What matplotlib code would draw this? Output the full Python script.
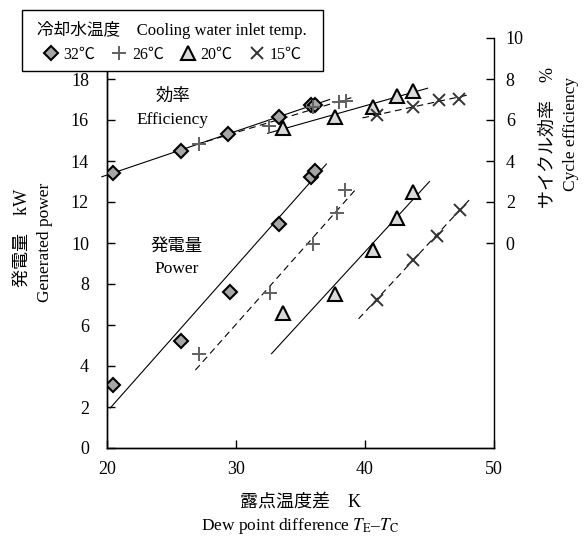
"""Generated power and cycle efficiency vs dew point difference."""
import matplotlib.pyplot as plt
from matplotlib.lines import Line2D
from matplotlib.patches import Rectangle

plt.rcParams['font.family'] = ['Liberation Serif', 'Noto Sans CJK JP']
plt.rcParams['mathtext.fontset'] = 'stix'

W, H = 586, 539

# cooling water inlet temperatures
temps = ['32℃', '26℃', '20℃', '15℃']

# generated power, kW
power_x_32 = [20.5, 25.7, 29.5, 33.3, 35.8, 36.1]
power_y_32 = [3.05, 5.2, 7.6, 10.95, 13.2, 13.5]
power_x_26 = [27.1, 32.6, 36.0, 37.85, 38.45]
power_y_26 = [4.6, 7.55, 9.95, 11.45, 12.6]
power_x_20 = [33.65, 37.7, 40.65, 42.5, 43.75]
power_y_20 = [6.6, 7.5, 9.65, 11.2, 12.5]
power_x_15 = [40.95, 43.75, 45.6, 47.35]
power_y_15 = [7.2, 9.15, 10.35, 11.6]

# cycle efficiency, %
eff_x_32 = [20.5, 25.7, 29.4, 33.3, 35.8, 36.1]
eff_y_32 = [3.4, 4.5, 5.3, 6.15, 6.75, 6.72]
eff_x_26 = [27.15, 32.55, 35.95, 37.95, 38.5]
eff_y_26 = [4.85, 5.7, 6.65, 6.9, 6.95]
eff_x_20 = [33.65, 37.7, 40.65, 42.5, 43.75]
eff_y_20 = [5.6, 6.15, 6.65, 7.15, 7.4]
eff_x_15 = [40.95, 43.7, 45.7, 47.3]
eff_y_15 = [6.25, 6.65, 6.98, 7.02]

# fitted lines (start, end)
power_fit_x = [[20.25, 37.0], [26.85, 39.4], [32.75, 45.0], [39.5, 48.3]]
power_fit_y = [[1.95, 13.85], [3.8, 12.7], [4.6, 13.0], [6.3, 12.25]]
eff_fit_x = [[19.6, 37.25], [26.9, 39.0], [32.45, 44.85], [39.8, 48.2]]
eff_fit_y = [[3.23, 7.0], [4.8, 7.1], [5.35, 7.55], [6.1, 7.25]]

power_x = [power_x_32, power_x_26, power_x_20, power_x_15]
power_y = [power_y_32, power_y_26, power_y_20, power_y_15]
eff_x = [eff_x_32, eff_x_26, eff_x_20, eff_x_15]
eff_y = [eff_y_32, eff_y_26, eff_y_20, eff_y_15]

markers = [
    dict(marker='D', ms=6.8, mfc='#a6a6a6', mec='black', mew=1.5),
    dict(marker='+', ms=10, mec='#606060', mew=1.4),
    dict(marker='^', ms=9.5, mfc='#d9d9d9', mec='black', mew=1.5),
    dict(marker='x', ms=9, mec='#333333', mew=1.4),
]
fit_styles = ['-', (0, (6, 4)), '-', (0, (6, 4))]

fig = plt.figure(figsize=(W / 100, H / 100), dpi=100)
ax = fig.add_axes([107 / W, 1 - 448 / H, 387 / W, 410 / H])
ax2 = ax.twinx()

for i in range(4):
    ax.plot(power_fit_x[i], power_fit_y[i], color='black', lw=0.8,
            ls=fit_styles[i], zorder=2)
    ax.plot(power_x[i], power_y[i], ls='none', zorder=3, **markers[i])
    ax2.plot(eff_fit_x[i], eff_fit_y[i], color='black', lw=0.8,
             ls=fit_styles[i], zorder=2, clip_on=False)
    ax2.plot(eff_x[i], eff_y[i], ls='none', zorder=3, **markers[i])

ax.set_xlim(20, 50)
ax.set_ylim(0, 20)
ax2.set_ylim(-10, 10)
ax.set_xticks([20, 30, 40, 50])
ax.set_yticks(range(0, 19, 2))
ax2.set_yticks(range(0, 11, 2))

for a in (ax, ax2):
    a.spines['top'].set_visible(False)
    for s in a.spines.values():
        s.set_linewidth(1.0)
    a.tick_params(direction='in', length=6, width=1.0, labelsize=13)
ax.spines['right'].set_visible(False)
ax.tick_params(axis='x', pad=9)
ax.tick_params(axis='y', pad=13)
ax2.tick_params(axis='y', pad=8.5)

# curve labels
ax.text(25.1, 17.15, '効率', ha='center', va='center', fontsize=12.5)
ax.text(25.1, 16.0, 'Efficiency', ha='center', va='center', fontsize=12.5)
ax.text(25.4, 9.8, '発電量', ha='center', va='center', fontsize=12.5)
ax.text(25.4, 8.75, 'Power', ha='center', va='center', fontsize=12.5)

# axis titles
fig.text(300 / W, 1 - 502 / H, '露点温度差　K', ha='center', va='center',
         fontsize=13)
fig.text(300 / W, 1 - 526 / H, r'Dew point difference $T_{\rm E}$–$T_{\rm C}$',
         ha='center', va='center', fontsize=12.5)
fig.text(22 / W, 1 - 238 / H, '発電量　kW', rotation=90, ha='center',
         va='center', fontsize=13)
fig.text(45 / W, 1 - 242 / H, 'Generated power', rotation=90, ha='center',
         va='center', fontsize=12.5)
fig.text(548 / W, 1 - 138 / H, 'サイクル効率　%', rotation=90, ha='center',
         va='center', fontsize=13)
fig.text(571 / W, 1 - 134 / H, 'Cycle efficiency', rotation=90, ha='center',
         va='center', fontsize=12.5)

# legend box
fig.patches.append(Rectangle((22 / W, 1 - 71 / H), 301 / W, 61 / H,
                             transform=fig.transFigure, facecolor='white',
                             edgecolor='black', lw=1.0, zorder=4))
handles = [Line2D([], [], ls='none', **m) for m in markers]
leg = fig.legend(handles, temps, ncol=4, loc='center',
                 bbox_to_anchor=(172 / W, 1 - 42 / H), borderaxespad=0,
                 title='冷却水温度　Cooling water inlet temp.', fontsize=11.5,
                 title_fontsize=12, frameon=False, handletextpad=0.3,
                 columnspacing=1.0, handlelength=1.0, borderpad=0,
                 labelspacing=0.45)
leg.set_zorder(6)

fig.savefig('out.png', dpi=100)
